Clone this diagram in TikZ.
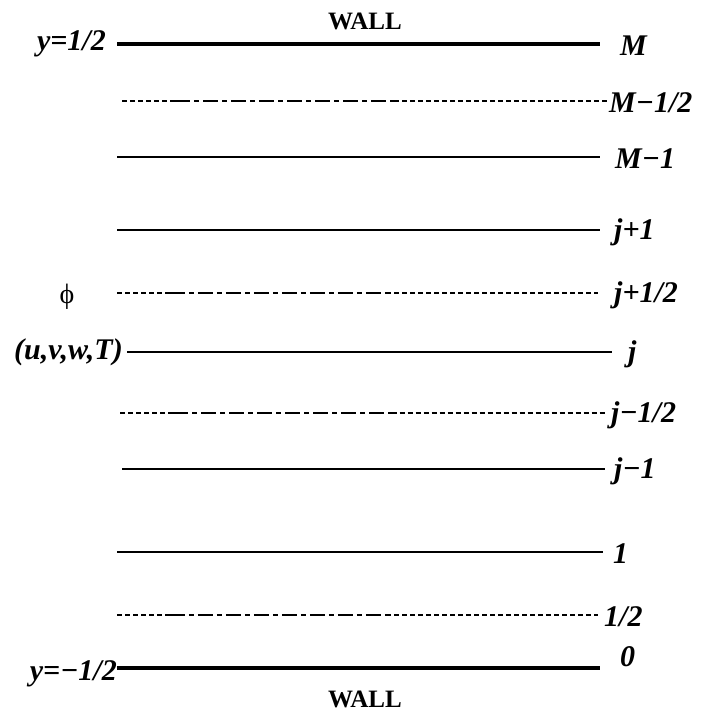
\documentclass[tikz,border=0pt]{standalone}
\usepackage{fontspec}
\setmainfont{Liberation Serif}
\usetikzlibrary{calc}
\begin{document}
\begin{tikzpicture}[x=1pt,y=1pt,
  wall/.style={line width=3.6pt},
  grid/.style={line width=1.5pt},
  shortdash/.style={line width=1.3pt,dash pattern=on 5pt off 3pt},
  longdash/.style={line width=1.4pt,dash pattern=on 15pt off 4pt on 5pt off 4pt},
  lab/.style={inner sep=0pt,font=\fontsize{30}{30}\selectfont\bfseries\itshape},
  walltxt/.style={inner sep=0pt,font=\fontsize{25}{25}\selectfont\bfseries}]
\useasboundingbox (0,0) rectangle (702,721);
% coordinates of line ends
\coordinate (Ma) at (117,677);   \coordinate (Mb) at (600,677);
\coordinate (Mha) at (122,620);  \coordinate (Mhb) at (608,620);
\coordinate (M1a) at (117,564);  \coordinate (M1b) at (600,564);
\coordinate (jpa) at (117,491);  \coordinate (jpb) at (600,491);
\coordinate (jpha) at (117,428); \coordinate (jphb) at (598,428);
\coordinate (ja) at (127,369);   \coordinate (jb) at (612,369);
\coordinate (jmha) at (120,308); \coordinate (jmhb) at (605,308);
\coordinate (jma) at (122,252);  \coordinate (jmb) at (605,252);
\coordinate (oa) at (117,169);   \coordinate (ob) at (603,169);
\coordinate (ha) at (117,106);   \coordinate (hb) at (598,106);
\coordinate (za) at (117,53);    \coordinate (zb) at (600,53);
% solid lines
\draw[wall] (Ma) -- (Mb);
\draw[wall] (za) -- (zb);
\draw[grid] (M1a) -- (M1b);
\draw[grid] (jpa) -- (jpb);
\draw[grid] (ja) -- (jb);
\draw[grid] (jma) -- (jmb);
\draw[grid] (oa) -- (ob);
% dashed half lines
\foreach \a/\b in {Mha/Mhb,jpha/jphb,jmha/jmhb,ha/hb}{
  \draw[shortdash] (\a) -- ($(\a)!0.11!(\b)$);
  \draw[longdash] ($(\a)!0.11!(\b)$) -- ($(\a)!0.56!(\b)$);
  \draw[shortdash] ($(\a)!0.56!(\b)$) -- (\b);
}
% right labels
\node[lab,anchor=west] (lM) at (620,675) {M};
\node[lab,anchor=west] (lMh) at (609,618) {M\char"2212 1/2};
\node[lab,anchor=west] (lM1) at (615,562) {M\char"2212 1};
\node[lab,anchor=west] (ljp) at (614,489) {j+1};
\node[lab,anchor=west] (ljph) at (614,426) {j+1/2};
\node[lab,anchor=west] (lj) at (628,367) {j};
\node[lab,anchor=west] (ljmh) at (611,306) {j\char"2212 1/2};
\node[lab,anchor=west] (ljm) at (614,250) {j\char"2212 1};
\node[lab,anchor=west] (lo) at (613,167) {1};
\node[lab,anchor=west] (lh) at (604,104) {1/2};
\node[lab,anchor=west] (lz) at (620,64) {0};
% left labels
\node[lab,anchor=east] (ytop) at (106,677) {y=1/2};
\node[lab,anchor=east] (uvw) at (123,369) {(u,v,w,T)};
\node[inner sep=0pt,font=\fontsize{28}{28}\selectfont] (phi) at (67,424) {\char"03D5};
\node[lab,anchor=east] (ybot) at (117,47) {y=\char"2212 1/2};
% wall labels
\node[walltxt] (wtop) at (365,700) {WALL};
\node[walltxt] (wbot) at (365,22) {WALL};
\end{tikzpicture}
\end{document}
